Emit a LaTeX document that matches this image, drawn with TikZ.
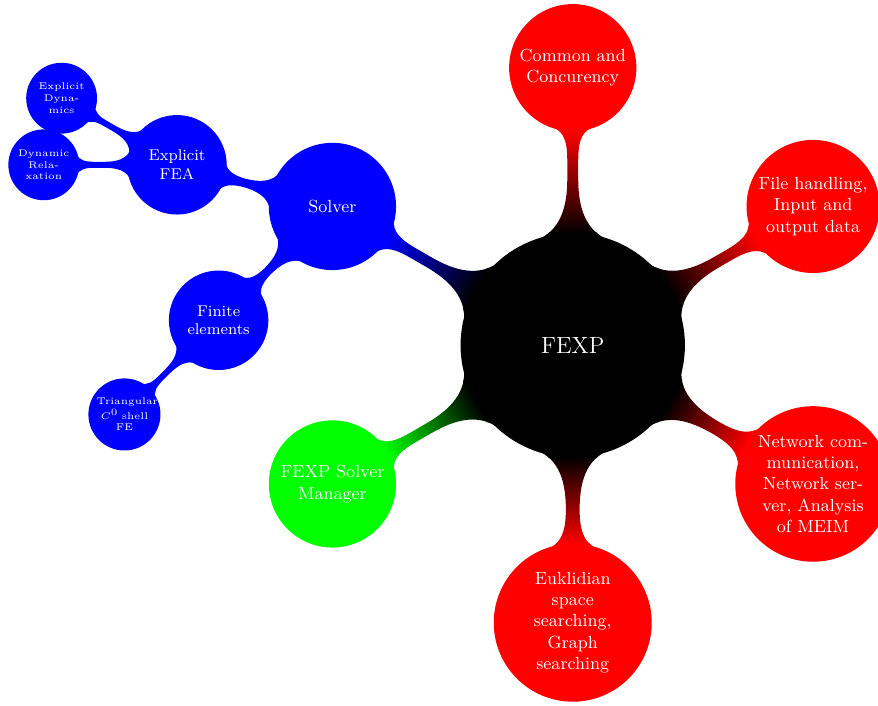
\documentclass[tikz,border=0pt]{standalone}
\usetikzlibrary{mindmap}
\hyphenation{Dyna-mics Rela-xation ser-ver com-mu-ni-ca-tion}
\begin{document}
\begin{tikzpicture}[mindmap, concept color=black, text=white]
\useasboundingbox (-10.32,-6.49) rectangle (5.50,6.22);
\node[concept] (root) {FEXP}
  child[grow=150, concept color=blue] {node[concept] (solver) {Solver}
    child[grow=165] {node[concept] (efea) {Explicit FEA}
      child[grow=150] {node[concept] (ed) {Explicit Dynamics}}
      child[grow=180] {node[concept] (dr) {Dynamic Relaxation}}}
    child[grow=225] {node[concept] (fe) {Finite elements}
      child[grow=225] {node[concept] (tri) {Triangular $C^0$ shell FE}}}}
  child[grow=210, concept color=green] {node[concept] (mgr) {FEXP Solver Manager}}
  child[grow=-90, concept color=red] {node[concept] (euk) {Euklidian space searching, Graph searching}}
  child[grow=-30, concept color=red] {node[concept] (net) {Network communication, Network server, Analysis of MEIM}}
  child[grow=30, concept color=red] {node[concept] (file) {File handling, Input and output data}}
  child[grow=90, concept color=red] {node[concept] (common) {Common and Concurency}};
\end{tikzpicture}
\end{document}
